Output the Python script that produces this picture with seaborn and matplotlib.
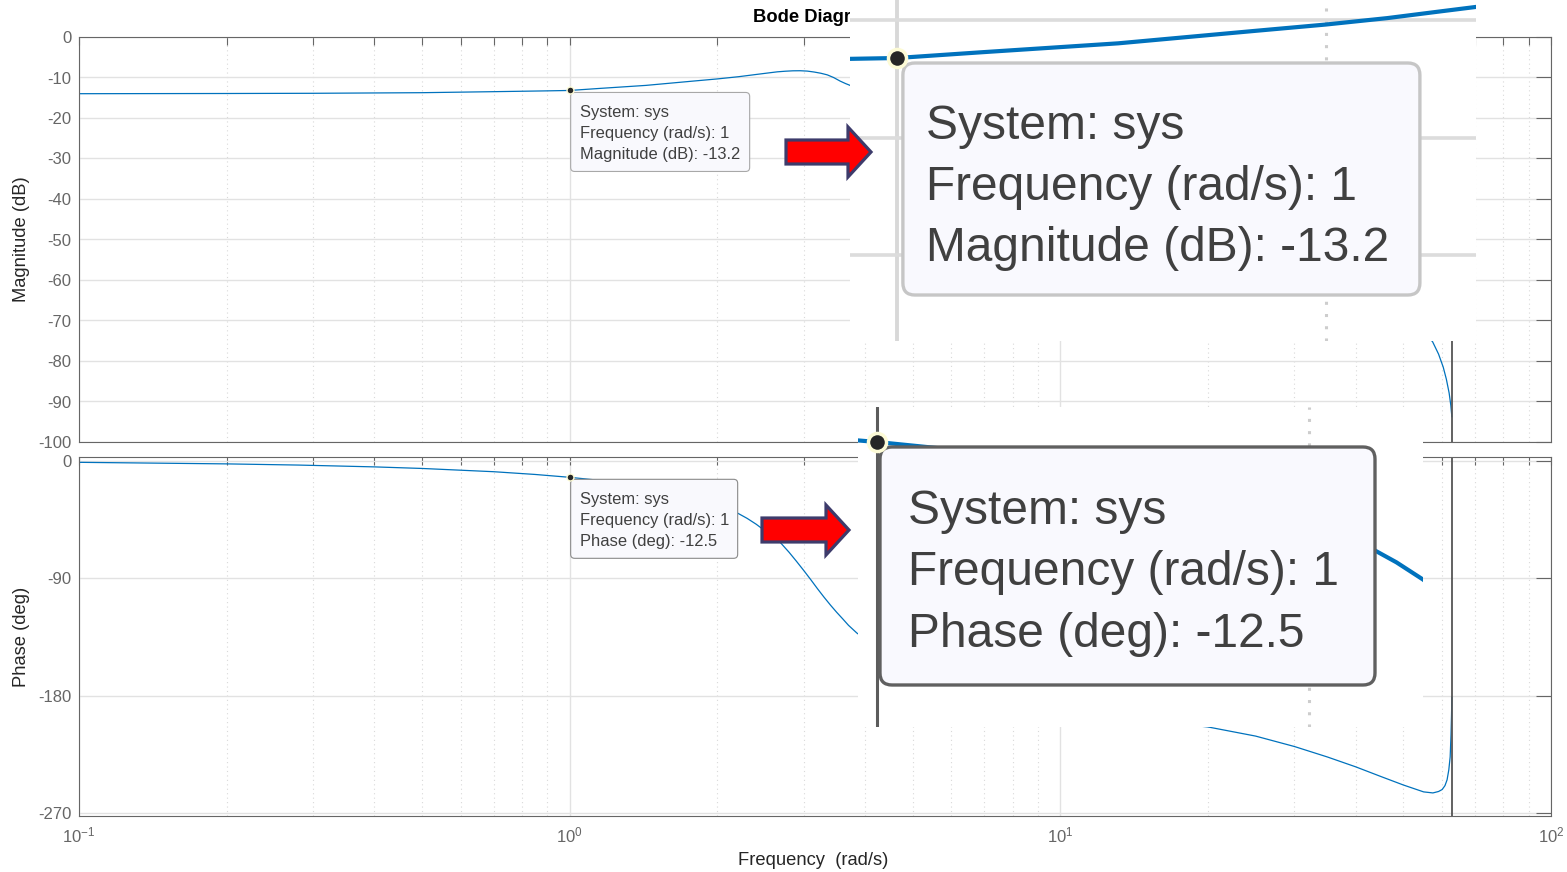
import numpy as np
import matplotlib
matplotlib.use("Agg")
import matplotlib.pyplot as plt
import seaborn as sns
from matplotlib.patches import FancyBboxPatch, FancyArrow
from matplotlib.transforms import Affine2D, ScaledTranslation
from matplotlib.ticker import LogLocator, FixedLocator, NullFormatter

# ---- frequency response of sys ----
freq_mag = [0.1, 0.2, 0.3, 0.5, 0.7, 0.9, 1.0, 1.15, 1.43, 1.78, 2.0, 2.21, 2.4,
            2.55, 2.65, 2.75, 2.85, 2.95, 3.05, 3.15, 3.25, 3.35, 3.45, 3.56,
            3.65, 3.72, 4.0, 5.0, 7.0, 10.0, 15.0, 20.0, 30.0, 40.0, 50.0, 55.0,
            57.4, 59.0, 60.3, 61.2, 62.0, 62.5, 62.8]
mag_db = [-14.0, -13.95, -13.9, -13.75, -13.5, -13.3, -13.2, -12.7, -11.95, -10.9,
          -10.35, -9.8, -9.25, -8.85, -8.6, -8.45, -8.35, -8.33, -8.42, -8.65,
          -8.95, -9.35, -10.0, -10.9, -11.5, -11.9, -13.8, -19.0, -26.0, -33.0,
          -41.0, -47.0, -55.0, -62.0, -68.0, -72.5, -75.3, -78.3, -81.5, -84.5,
          -87.9, -91.0, -93.8]

freq_phase = [0.1, 0.2, 0.28, 0.4, 0.5, 0.7, 0.85, 1.0, 1.2, 1.5, 1.7, 1.9, 2.0,
              2.1, 2.2, 2.3, 2.4, 2.5, 2.6, 2.68, 2.8, 2.9, 3.0, 3.1, 3.2, 3.3,
              3.4, 3.5, 3.6, 3.7, 3.85, 4.5, 5.5, 7.0, 10.0, 14.0, 20.0, 25.0,
              30.0, 35.0, 40.0, 45.0, 50.0, 55.0, 57.45, 59.0, 60.0, 60.8, 61.4,
              61.9, 62.3, 62.55, 62.7, 62.8]
phase_deg = [-1.0, -2.2, -3.1, -4.5, -5.7, -8.2, -10.3, -12.5, -15.5, -20.5, -25.0,
             -30.0, -33.0, -36.5, -40.0, -44.0, -48.5, -53.5, -58.5, -62.0, -70.0,
             -77.0, -84.0, -91.0, -98.0, -104.5, -110.5, -116.0, -121.0, -126.0,
             -132.0, -150.0, -165.0, -178.0, -190.0, -198.0, -204.0, -211.0,
             -219.0, -227.0, -234.6, -242.0, -248.5, -253.8, -254.6, -253.5,
             -252.0, -249.0, -244.6, -237.0, -227.0, -210.0, -195.0, -181.0]

notch_freq = 62.8

# data tip readouts
tip_freq = 1
tip_mag = -13.2
tip_phase = -12.5
system_name = "sys"

mag_ticks = [0, -10, -20, -30, -40, -50, -60, -70, -80, -90, -100]
phase_ticks = [0, -90, -180, -270]
freq_ticks = [0.1, 1, 10, 100]
minor_freqs = [m * d for d in (0.1, 1, 10) for m in range(2, 10)]

# ---- styling ----
sns.set_theme(style="white")
plt.rcParams["font.family"] = ["Liberation Sans", "DejaVu Sans"]
plt.rcParams["axes.unicode_minus"] = False

LINE = "#0072BD"
AXCOL = "#666666"
W, H = 1567, 872
fig = plt.figure(figsize=(W / 100, H / 100), dpi=100, facecolor="white")


def px_axes(x0, y0, x1, y1, **kw):
    return fig.add_axes([x0 / W, 1 - y1 / H, (x1 - x0) / W, (y1 - y0) / H], **kw)


def style_main(ax, yticks, ylim):
    ax.set_xscale("log")
    ax.set_xlim(freq_ticks[0], freq_ticks[-1])
    ax.set_ylim(*ylim)
    ax.xaxis.set_major_locator(FixedLocator(freq_ticks))
    ax.xaxis.set_minor_locator(FixedLocator(minor_freqs))
    ax.xaxis.set_minor_formatter(NullFormatter())
    ax.yaxis.set_major_locator(FixedLocator(yticks))
    ax.set_axisbelow(True)
    ax.grid(which="major", color="#e2e2e2", lw=1.0, ls="-")
    ax.grid(which="minor", axis="x", color="#d9d9d9", lw=0.8, ls=(0, (1, 3)))
    ax.tick_params(which="both", direction="in", top=True, right=True,
                   colors=AXCOL, labelsize=12, width=0.8)
    ax.tick_params(axis="y", which="major", length=11, pad=5.5)
    ax.tick_params(axis="x", which="both", length=5.5, pad=7)
    for s in ax.spines.values():
        s.set_color(AXCOL)
        s.set_linewidth(0.8)
    ax.set_facecolor("white")


def anchor_at(ax, x, y):
    # pixel offsets (y pointing down) from a data point
    return Affine2D().scale(1, -1) + ScaledTranslation(x, y, ax.transData)


def datatip(ax, x, y, lines, box, tx, tys, fs, fc, ec, elw, radius,
            ms, mew, tcol="#404040", z=6):
    tr = anchor_at(ax, x, y)
    bx, by, bw, bh = box
    ax.add_patch(FancyBboxPatch((bx, by), bw, bh,
                                boxstyle=f"round,pad=0,rounding_size={radius}",
                                transform=tr, fc=fc, ec=ec, lw=elw,
                                zorder=z, clip_on=False))
    for s, ty in zip(lines, tys):
        ax.text(tx, ty, s, transform=tr, fontsize=fs, color=tcol,
                ha="left", va="baseline", zorder=z + 1, clip_on=False)
    ax.plot([x], [y], "o", ms=ms, mfc="#262626", mec="#fdfbd6", mew=mew,
            zorder=z + 2, clip_on=False)


# ---- main Bode axes ----
ax_mag = px_axes(79, 37, 1551, 442)
ax_ph = px_axes(79, 457.5, 1551, 816)
style_main(ax_mag, mag_ticks, (-100, 0))
style_main(ax_ph, phase_ticks, (-272.3, 2.7))
ax_mag.tick_params(labelbottom=False)

sns.lineplot(x=freq_mag, y=mag_db, ax=ax_mag, color=LINE, lw=0.9,
             estimator=None, errorbar=None)
sns.lineplot(x=freq_phase, y=phase_deg, ax=ax_ph, color=LINE, lw=0.9,
             estimator=None, errorbar=None)
for ax in (ax_mag, ax_ph):
    ax.axvline(notch_freq, color="#555555", lw=1.3, zorder=3)

ax_mag.set_ylabel("Magnitude (dB)", fontsize=13.2, color="#262626", va="center")
ax_mag.yaxis.set_label_coords(-57 / 1472, 0.5)
ax_ph.set_ylabel("Phase (deg)", fontsize=13.2, color="#262626", va="center")
ax_ph.yaxis.set_label_coords(-57 / 1472, 0.5)
ax_ph.set_xlabel("Frequency  (rad/s)", fontsize=13.2, color="#262626", va="center")
ax_ph.xaxis.set_label_coords(0.4985, -44 / 358.5)
ax_mag.set_xlabel("")
fig.text(815 / W, 1 - 17 / H, "Bode Diagram", ha="center", va="center",
         fontsize=13.2, fontweight="bold", color="#000000")

mag_lines = [f"System: {system_name}", f"Frequency (rad/s): {tip_freq}",
             f"Magnitude (dB): {tip_mag}"]
ph_lines = [f"System: {system_name}", f"Frequency (rad/s): {tip_freq}",
            f"Phase (deg): {tip_phase}"]

datatip(ax_mag, tip_freq, tip_mag, mag_lines, (1, 2, 179, 79), 10, (27, 48, 69),
        11.9, "#f9f9fd", "#a8a8a8", 0.8, 4, 5, 1.0)
datatip(ax_ph, tip_freq, tip_phase, ph_lines, (1, 2, 167, 79), 10, (27, 48, 69),
        11.9, "#f9f9fd", "#8a8a8a", 0.8, 4, 5, 1.0)


# ---- magnified views of the two data tips ----
def style_zoom(ax, xlim, ylim, yticks):
    ax.set_xscale("log")
    ax.set_xlim(*xlim)
    ax.set_ylim(*ylim)
    ax.xaxis.set_major_locator(FixedLocator(freq_ticks))
    ax.xaxis.set_minor_locator(FixedLocator(minor_freqs))
    ax.yaxis.set_major_locator(FixedLocator(yticks))
    ax.tick_params(which="both", length=0, labelbottom=False, labelleft=False)
    for s in ax.spines.values():
        s.set_visible(False)
    ax.set_facecolor("white")
    ax.set_axisbelow(True)


zm = px_axes(850, 0, 1476, 341, zorder=5)
style_zoom(zm, (0.927, 2.55), (-37.3, -8.26), mag_ticks)
zm.grid(which="major", axis="y", color="#dcdcdc", lw=2.6)
zm.grid(which="major", axis="x", color="#d8d8d8", lw=2.8)
zm.grid(which="minor", axis="x", color="#cdcdcd", lw=2.2, ls=(0, (1, 3)))
sns.lineplot(x=freq_mag, y=mag_db, ax=zm, color=LINE, lw=3.0,
             estimator=None, errorbar=None)
zm.set_xlabel("")
zm.set_ylabel("")
datatip(zm, tip_freq, tip_mag, mag_lines, (6, 5, 517, 232), 29, (81, 142, 203),
        34.5, "#f9f9fe", "#c6c6c6", 2.4, 12, 13, 2.5)

zp = px_axes(858, 407, 1423, 727, zorder=5)
style_zoom(zp, (0.970, 2.40), (-87.1, -3.34), phase_ticks)
zp.grid(which="major", axis="x", color="#5c5c5c", lw=2.2)
zp.grid(which="minor", axis="x", color="#cdcdcd", lw=2.2, ls=(0, (1, 3)))
sns.lineplot(x=freq_phase, y=phase_deg, ax=zp, color=LINE, lw=3.0,
             estimator=None, errorbar=None)
zp.set_xlabel("")
zp.set_ylabel("")
datatip(zp, tip_freq, tip_phase, ph_lines, (3, 5, 495, 238), 31, (82, 143, 205),
        34.5, "#f9f9fe", "#606060", 2.4, 12, 13, 2.5)

# ---- pointer arrows ----
ov = fig.add_axes([0, 0, 1, 1], zorder=20)
ov.set_xlim(0, W)
ov.set_ylim(H, 0)
ov.axis("off")
for x0, x1, yc in [(786, 871, 152), (762, 849, 530)]:
    ov.add_patch(FancyArrow(x0, yc, x1 - x0, 0, width=24, head_width=50,
                            head_length=23, length_includes_head=True,
                            fc="#ff0000", ec="#3d3b6b", lw=2.3,
                            joinstyle="miter"))

fig.savefig("out.png", dpi=100, facecolor="white")
